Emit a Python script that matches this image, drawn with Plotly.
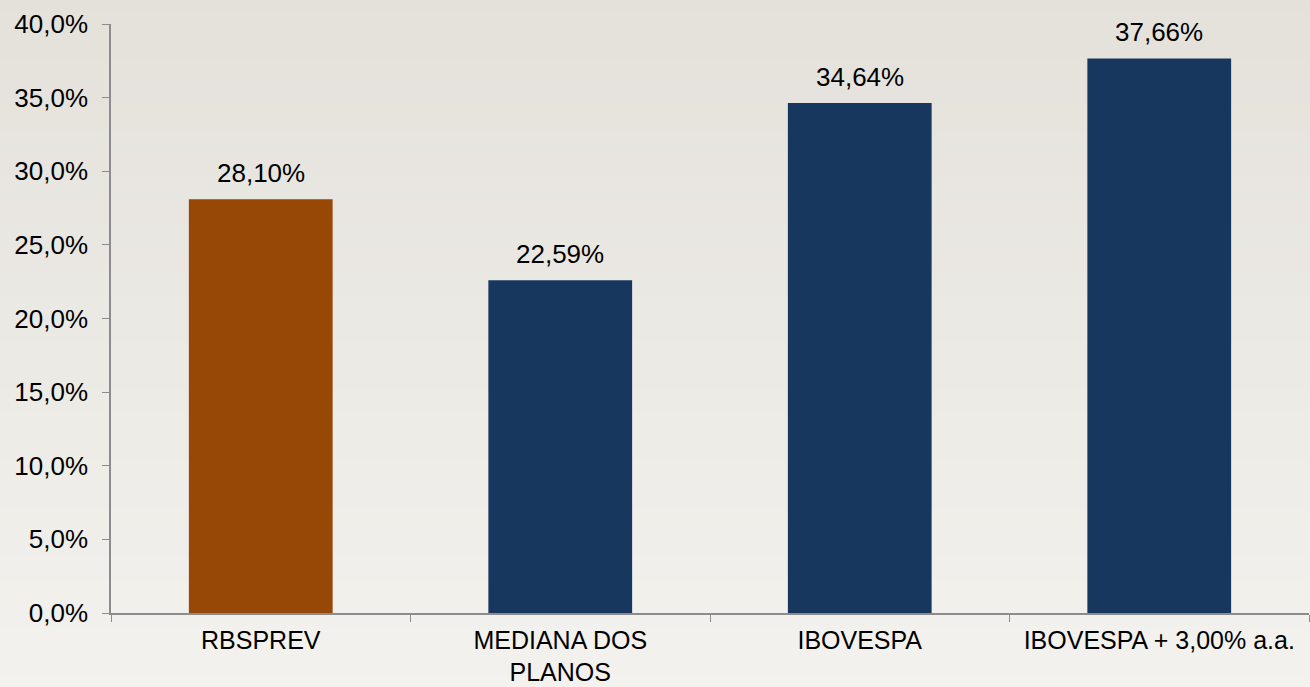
import plotly.graph_objects as go

categories = ["RBSPREV", "MEDIANA DOS<br>PLANOS", "IBOVESPA", "IBOVESPA + 3,00% a.a."]
values = [28.10, 22.59, 34.64, 37.66]
bar_colors = ["#974706", "#17375E", "#17375E", "#17375E"]
y_ticks = [0, 5, 10, 15, 20, 25, 30, 35, 40]
y_tick_text = [("%.1f%%" % v).replace(".", ",") for v in y_ticks]
value_labels = [("%.2f%%" % v).replace(".", ",") for v in values]

FONT = "Liberation Sans, Arial"
FS = 26

fig = go.Figure()
fig.add_trace(go.Bar(
    x=categories, y=values,
    marker=dict(color=bar_colors, line=dict(width=0)),
    width=0.48, hoverinfo="x+y",
))
for c, v, t in zip(categories, values, value_labels):
    fig.add_annotation(x=c, y=v, text=t, showarrow=False, yanchor="bottom",
                       yshift=9, font=dict(size=FS, color="#000000", family=FONT))

# subtle vertical background gradient
top = (228, 225, 219)
bot = (243, 242, 238)
n = 30
y0p, y1p = -74 / 589 - 0.02, 1 + 24 / 589 + 0.02
for i in range(n):
    t = i / (n - 1)
    c = tuple(round(top[k] + (bot[k] - top[k]) * t) for k in range(3))
    ya = y1p - (y1p - y0p) * i / n
    yb = y1p - (y1p - y0p) * (i + 1) / n
    fig.add_shape(type="rect", xref="paper", yref="paper", x0=-0.2, x1=1.05,
                  y0=yb - 0.002, y1=ya + 0.002, fillcolor="rgb(%d,%d,%d)" % c,
                  line=dict(width=0), layer="below")

fig.update_layout(
    width=1310, height=687,
    margin=dict(l=111, r=1, t=24, b=74),
    paper_bgcolor="#ebe9e4", plot_bgcolor="rgba(0,0,0,0)",
    font=dict(family=FONT, size=FS, color="#000000"),
    showlegend=False, bargap=0.52,
    xaxis=dict(showline=True, linecolor="#8c8c8c", linewidth=1.5,
               ticks="outside", tickson="boundaries", ticklen=7, tickcolor="#8c8c8c",
               tickfont=dict(size=25), showgrid=False, ticklabelstandoff=4,
               automargin=False),
    yaxis=dict(range=[0, 40], tickvals=y_ticks, ticktext=y_tick_text,
               showline=True, linecolor="#8c8c8c", linewidth=1.5,
               ticks="outside", ticklen=7, tickcolor="#8c8c8c",
               showgrid=False, zeroline=False, tickfont=dict(size=FS),
               ticklabelstandoff=9, automargin=False),
)
fig.write_html("out.html", config={"displayModeBar": False},
               post_script="document.body.style.margin='0';document.body.style.overflow='hidden';")
